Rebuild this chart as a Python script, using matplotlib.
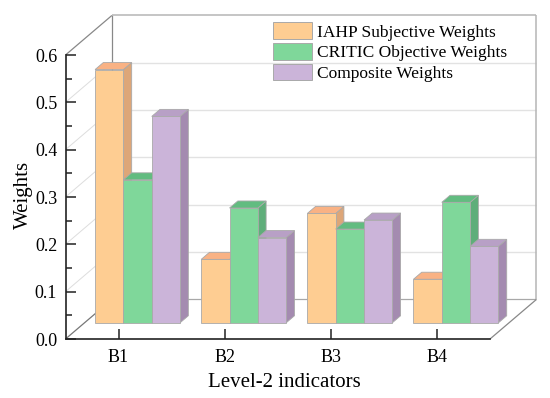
import matplotlib
matplotlib.use("Agg")
import matplotlib.pyplot as plt
from matplotlib.patches import Polygon, Patch

plt.rcParams["font.family"] = ["Liberation Serif", "DejaVu Serif"]

categories = ["B1", "B2", "B3", "B4"]
iahp = [0.535, 0.134, 0.231, 0.092]
critic = [0.302, 0.2425, 0.198, 0.2545]
composite = [0.436, 0.180, 0.217, 0.1615]
series_names = ["IAHP Subjective Weights", "CRITIC Objective Weights", "Composite Weights"]

# front, side, top
colors = [("#FECD92", "#DDA678", "#F9B284"),
          ("#7FD79A", "#5FAE7A", "#62BC80"),
          ("#CBB4D9", "#A48BB0", "#B8A0C6")]
EDGE = "#A9A9A9"

# oblique projection: depth 0..1 shifts a point right and up
DX, DY = 0.437, 0.0835
D0, D1 = 0.41, 0.588
BAR_W = 0.267


def proj(x, y, d):
    return (x + d * DX, y + d * DY)


def poly(ax, pts, color, z=3):
    ax.add_patch(Polygon(pts, closed=True, fc=color, ec=EDGE, lw=0.6, clip_on=False, zorder=z))


def line3(ax, a, b, color, lw=0.9, z=1):
    ax.plot(*zip(a, b), color=color, lw=lw, clip_on=False, zorder=z, solid_capstyle="butt")


fig = plt.figure(figsize=(5.5, 3.98), dpi=100)
ax = fig.add_axes([65.5 / 550, 59 / 398, 424.5 / 550, 284 / 398])
ax.set_xlim(0.5, 4.5)
ax.set_ylim(0, 0.6)

# walls and gridlines
xl, xr = ax.get_xlim()
ytop = ax.get_ylim()[1]
for v in [0.1, 0.2, 0.3, 0.4, 0.5]:
    line3(ax, proj(xl, v, 0), proj(xl, v, 1), "#DDDDDD", 0.7)
    line3(ax, proj(xl, v, 1), proj(xr, v, 1), "#E2E2E2", 1.0)
line3(ax, proj(xl, 0, 0), proj(xl, 0, 1), "#777777")
line3(ax, proj(xl, ytop, 0), proj(xl, ytop, 1), "#888888")
line3(ax, proj(xl, 0, 1), proj(xl, ytop, 1), "#888888")
line3(ax, proj(xl, ytop, 1), proj(xr, ytop, 1), "#B5B5B5", 1.1)
line3(ax, proj(xr, 0, 1), proj(xr, ytop, 1), "#B5B5B5", 1.1)
line3(ax, proj(xl, 0, 1), proj(xr, 0, 1), "#A8A8A8")
line3(ax, proj(xr, 0, 0), proj(xr, 0, 1), "#888888")

# bars, left to right so each front covers the previous side face
for i in range(len(categories)):
    for j, vals in enumerate([iahp, critic, composite]):
        x0 = i + 1 + (j - 1.5) * BAR_W
        x1 = x0 + BAR_W
        h = vals[i]
        front, side, top = colors[j]
        poly(ax, [proj(x1, 0, D0), proj(x1, 0, D1), proj(x1, h, D1), proj(x1, h, D0)], side)
        poly(ax, [proj(x0, h, D0), proj(x1, h, D0), proj(x1, h, D1), proj(x0, h, D1)], top)
        poly(ax, [proj(x0, 0, D0), proj(x1, 0, D0), proj(x1, h, D0), proj(x0, h, D0)], front)

ax.patch.set_visible(False)
ax.spines[["top", "right"]].set_visible(False)
ax.spines[["left", "bottom"]].set_linewidth(1.2)
ax.spines[["left", "bottom"]].set_color("#222222")
ax.set_xticks([1, 2, 3, 4])
ax.set_xticklabels(categories)
ax.set_yticks([0.0, 0.1, 0.2, 0.3, 0.4, 0.5, 0.6])
ax.set_yticks([0.05, 0.15, 0.25, 0.35, 0.45, 0.55], minor=True)
ax.tick_params(axis="both", which="major", direction="in", length=7, width=1.1,
               labelsize=13, color="#222222", pad=7)
ax.tick_params(axis="y", which="minor", direction="in", length=4, width=1.1, color="#222222")
ax.tick_params(axis="y", which="major", pad=6)
ax.set_xlabel("Level-2 indicators", fontsize=15, labelpad=5, x=0.515)
ax.set_ylabel("Weights", fontsize=15, labelpad=1, y=0.507)

handles = [Patch(fc=c[0], ec=EDGE, lw=0.7) for c in colors]
ax.legend(handles, series_names, loc="upper left", bbox_to_anchor=(207.5 / 424.5, 1.115),
          frameon=False, fontsize=12.5, borderpad=0, borderaxespad=0,
          handlelength=2.24, handleheight=1.09, labelspacing=0.15, handletextpad=0.28)

fig.savefig("out.png", dpi=100)
